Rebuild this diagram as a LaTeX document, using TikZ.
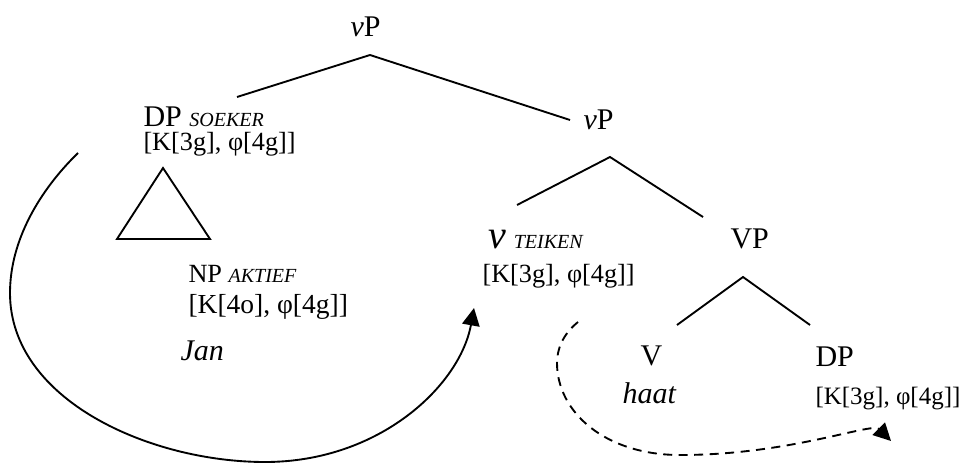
\documentclass[tikz,border=0pt]{standalone}
\usepackage{fontspec}
\setmainfont{Liberation Serif}[ItalicFont=Liberation Serif Italic]
\usetikzlibrary{arrows.meta}

\begin{document}
\begin{tikzpicture}[
    x=0.4pt, y=-0.4pt,
    lbl/.style={anchor=base west, inner sep=0pt, font=\fontsize{12}{14}\selectfont},
    feat/.style={anchor=base west, inner sep=0pt, font=\fontsize{10.5}{12}\selectfont},
    branch/.style={line width=0.75pt},
    move/.style={line width=0.75pt, -{Triangle[length=7pt, width=7pt]}}
]
  \newcommand{\tg}[1]{{\itshape\fontsize{8}{9}\selectfont #1}}
  \useasboundingbox (0,0) rectangle (970,465);

  % Labels of the tree
  \node[lbl] (vPtop) at (350,37) {\textit{v}P};
  \node[lbl] (DPs) at (143,127) {DP \tg{SOEKER}};
  \node[feat] (DPsF) at (143,151) {[K[3g], φ[4g]]};
  \node[lbl, font=\fontsize{10.5}{12}\selectfont] (NP) at (188,282) {NP \tg{AKTIEF}};
  \node[feat, font=\fontsize{11}{13}\selectfont] (NPF) at (188,313) {[K[4o], φ[4g]]};
  \node[lbl] (Jan) at (180,360) {\textit{Jan}};
  \node[lbl] (vPmid) at (583,130) {\textit{v}P};
  \node[lbl] (vT) at (488,248) {{\itshape\fontsize{16}{18}\selectfont v} \tg{TEIKEN}};
  \node[feat] (vTF) at (482,282) {[K[3g], φ[4g]]};
  \node[lbl] (VP) at (730,248) {VP};
  \node[lbl] (V) at (640,365) {V};
  \node[lbl] (haat) at (622,403) {\textit{haat}};
  \node[lbl] (DPo) at (815,366) {DP};
  \node[feat, font=\fontsize{10}{12}\selectfont] (DPoF) at (815,404) {[K[3g], φ[4g]]};

  % Branch points
  \coordinate (vPtop-b) at (370,55);
  \coordinate (DPs-t) at (237,97);
  \coordinate (vPmid-t) at (570,120);
  \coordinate (vPmid-b) at (610,157);
  \coordinate (vT-t) at (517,205);
  \coordinate (VP-t) at (703,217);
  \coordinate (VP-b) at (743,277);
  \coordinate (V-t) at (677,325);
  \coordinate (DPo-t) at (810,325);

  \draw[branch] (DPs-t) -- (vPtop-b) -- (vPmid-t);
  \draw[branch] (vT-t) -- (vPmid-b) -- (VP-t);
  \draw[branch] (V-t) -- (VP-b) -- (DPo-t);

  % Triangle under DP
  \draw[branch] (163,168) -- (117,239) -- (210,239) -- cycle;

  % Agree arrows
  \coordinate (agS) at (78,153);
  \coordinate (agE) at (474,308);
  \draw[move] (agS) .. controls (40,190) and (10,240) .. (10,293)
    .. controls (10,400) and (150,462) .. (265,462)
    .. controls (380,462) and (460,385) .. (agE);
  \coordinate (valS) at (578,322);
  \coordinate (valE) at (891,441);
  \draw[move, dash pattern=on 3.6pt off 2.6pt] (valS) .. controls (562,335) and (557,350) .. (557,363)
    .. controls (557,412) and (605,455) .. (680,455)
    .. controls (790,455) and (872,422) .. (valE);

\end{tikzpicture}
\end{document}
